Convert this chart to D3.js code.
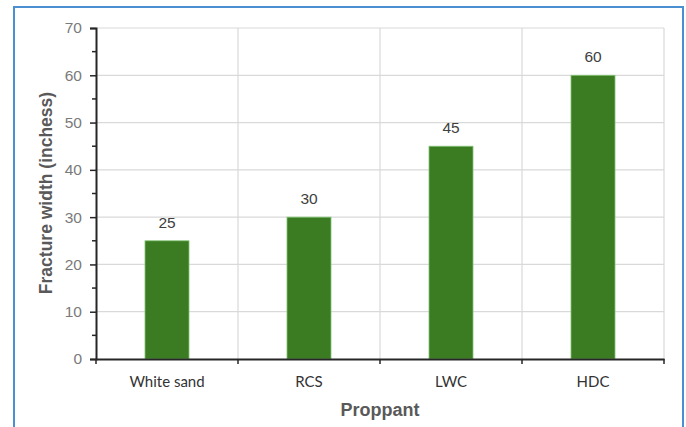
<!DOCTYPE html>
<html>
<head>
<meta charset="utf-8">
<script src="https://cdn.jsdelivr.net/npm/d3@7"></script>
<style>
  html, body { margin: 0; padding: 0; background: #fff; }
  svg { display: block; }
</style>
</head>
<body>
<svg id="chart" width="686" height="427"></svg>
<script>
// Fracture width by proppant type
const categories = ["White sand", "RCS", "LWC", "HDC"];
const widths = [25, 30, 45, 60];
const yTicks = [0, 10, 20, 30, 40, 50, 60, 70];
const yMinorTicks = [5, 15, 25, 35, 45, 55, 65];

const svg = d3.select("#chart");
const plot = { left: 96, right: 664, top: 28, bottom: 359 };

// frame around the figure
svg.append("rect")
  .attr("x", 14).attr("y", 7)
  .attr("width", 669).attr("height", 430)
  .attr("fill", "#fff")
  .attr("stroke", "#4a90d0")
  .attr("stroke-width", 2);

const x = d3.scaleBand()
  .domain(categories)
  .range([plot.left, plot.right])
  .paddingInner(0).paddingOuter(0);

const y = d3.scaleLinear()
  .domain([0, 70])
  .range([plot.bottom, plot.top]);

// horizontal gridlines
svg.append("g")
  .selectAll("line")
  .data(yTicks.filter(d => d > 0))
  .join("line")
  .attr("x1", plot.left).attr("x2", plot.right)
  .attr("y1", d => y(d)).attr("y2", d => y(d))
  .attr("stroke", "#d9d9d9").attr("stroke-width", 1.2);

// vertical gridlines at category boundaries
const bounds = categories.slice(1).map(c => x(c)).concat([plot.right]);
svg.append("g")
  .selectAll("line")
  .data(bounds)
  .join("line")
  .attr("x1", d => d).attr("x2", d => d)
  .attr("y1", plot.top).attr("y2", plot.bottom)
  .attr("stroke", "#d9d9d9").attr("stroke-width", 1.2);

// bars
const barW = x.bandwidth() * 0.31;
const rows = categories.map((c, i) => ({ c, v: widths[i] }));
svg.append("g")
  .selectAll("rect")
  .data(rows)
  .join("rect")
  .attr("x", d => x(d.c) + x.bandwidth() / 2 - barW / 2)
  .attr("y", d => y(d.v))
  .attr("width", barW)
  .attr("height", d => y(0) - y(d.v))
  .attr("fill", "#3b7b22")
  .attr("stroke", "#86c77a")
  .attr("stroke-width", 0.8);

// value labels
svg.append("g")
  .selectAll("text")
  .data(rows)
  .join("text")
  .attr("x", d => x(d.c) + x.bandwidth() / 2)
  .attr("y", d => y(d.v) - 13)
  .attr("text-anchor", "middle")
  .attr("font-family", "Liberation Sans, Arial, sans-serif")
  .attr("font-size", 15.5)
  .attr("fill", "#404040")
  .text(d => d.v);

// y axis
const yAxis = svg.append("g")
  .attr("transform", `translate(${plot.left},0)`)
  .call(d3.axisLeft(y).tickValues(yTicks).tickSize(6).tickPadding(8));
yAxis.select(".domain").attr("stroke", "#262626").attr("stroke-width", 2);
yAxis.selectAll(".tick line").attr("stroke", "#262626").attr("stroke-width", 1.5);
yAxis.selectAll(".tick text")
  .attr("font-family", "Liberation Sans, Arial, sans-serif")
  .attr("font-size", 15.5)
  .attr("fill", "#7a7a7a");

// minor y ticks
svg.append("g")
  .selectAll("line")
  .data(yMinorTicks)
  .join("line")
  .attr("x1", plot.left - 4).attr("x2", plot.left)
  .attr("y1", d => y(d)).attr("y2", d => y(d))
  .attr("stroke", "#262626").attr("stroke-width", 1.5);

// x axis
const xAxis = svg.append("g")
  .attr("transform", `translate(0,${plot.bottom})`)
  .call(d3.axisBottom(x).tickSize(0).tickPadding(17));
xAxis.select(".domain").attr("stroke", "#262626").attr("stroke-width", 2);
xAxis.selectAll(".tick text")
  .attr("font-family", "Lato, Liberation Sans, Arial, sans-serif")
  .attr("font-size", 15)
  .attr("fill", "#333");

// x boundary ticks
svg.append("g")
  .selectAll("line")
  .data([plot.left].concat(bounds))
  .join("line")
  .attr("x1", d => d).attr("x2", d => d)
  .attr("y1", plot.bottom).attr("y2", plot.bottom + 5)
  .attr("stroke", "#262626").attr("stroke-width", 1.5);

// axis titles
svg.append("text")
  .attr("x", 380)
  .attr("y", 416)
  .attr("text-anchor", "middle")
  .attr("font-family", "Liberation Sans, Arial, sans-serif")
  .attr("font-weight", "bold")
  .attr("font-size", 18)
  .attr("fill", "#595959")
  .text("Proppant");

svg.append("text")
  .attr("transform", "translate(52,193) rotate(-90)")
  .attr("text-anchor", "middle")
  .attr("font-family", "Liberation Sans, Arial, sans-serif")
  .attr("font-weight", "bold")
  .attr("font-size", 17.5)
  .attr("fill", "#595959")
  .text("Fracture width (inchess)");
</script>
</body>
</html>
